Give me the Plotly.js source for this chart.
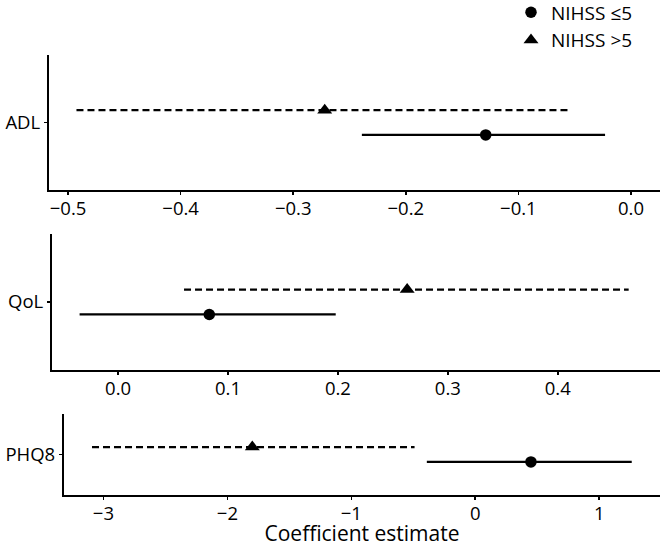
<!DOCTYPE html>
<html>
<head>
<meta charset="utf-8">
<script src="https://cdn.plot.ly/plotly-3.0.1.min.js"></script>
<style>html,body{margin:0;padding:0;background:#fff}</style>
</head>
<body>
<div id="chart" style="width:662px;height:547px"></div>
<script>
// ---- data ----
const outcomes = ['ADL', 'QoL', 'PHQ8'];
const groupNames = ['NIHSS ≤5', 'NIHSS >5'];
// NIHSS <=5 (circle, solid)
const estMild = [-0.129, 0.083, 0.449];
const loMild  = [-0.239, -0.035, -0.391];
const hiMild  = [-0.023, 0.198, 1.262];
// NIHSS >5 (triangle, dashed)
const estSevere = [-0.272, 0.263, -1.799];
const loSevere  = [-0.4925, 0.060, -3.092];
const hiSevere  = [-0.056, 0.4645, -0.490];

// ---- styles ----
const FONT = 'Open Sans, Noto Sans, sans-serif';
const TICK_SIZE = 18.5;
const DODGE = 0.11;
const W = 662, H = 547;
const MB = 52;              // bottom margin (room for tick labels + axis title)
const PH = H - MB;          // plot-area height (bottom panel sits on its bottom edge)
const panels = [
  {left: 49, top: 55, bottom: 190, range: [-0.5169, 0.0258], dtick: 0.1, fmt: '.1f'},
  {left: 52, top: 234, bottom: 370, range: [-0.0601, 0.493], dtick: 0.1, fmt: '.1f'},
  {left: 64, top: 414, bottom: 495, range: [-3.318, 1.49], dtick: 1, fmt: 'd'}
];
const RIGHT = 660;

const traces = [];
const layout = {
  width: W, height: H,
  margin: {l: 0, r: 0, t: 0, b: MB, autoexpand: false},
  paper_bgcolor: '#fff', plot_bgcolor: '#fff',
  font: {family: FONT, color: '#000', size: TICK_SIZE},
  showlegend: true,
  legend: {
    x: 511 / W, y: 1 + 6.6 / PH, xanchor: 'left', yanchor: 'top',
    font: {family: FONT, size: 19, color: '#000'},
    tracegroupgap: 0, bgcolor: 'rgba(0,0,0,0)'
  }
};

outcomes.forEach((name, i) => {
  const p = panels[i];
  const xa = i === 0 ? 'x' : 'x' + (i + 1);
  const ya = i === 0 ? 'y' : 'y' + (i + 1);
  const xk = i === 0 ? 'xaxis' : 'xaxis' + (i + 1);
  const yk = i === 0 ? 'yaxis' : 'yaxis' + (i + 1);
  const yMild = 1 - DODGE, ySev = 1 + DODGE;

  traces.push({
    x: [loSevere[i], hiSevere[i]], y: [ySev, ySev], xaxis: xa, yaxis: ya,
    mode: 'lines', line: {color: '#000', width: 2.2, dash: '7px,4px'},
    showlegend: false, hoverinfo: 'skip'
  });
  traces.push({
    x: [loMild[i], hiMild[i]], y: [yMild, yMild], xaxis: xa, yaxis: ya,
    mode: 'lines', line: {color: '#000', width: 2.2},
    showlegend: false, hoverinfo: 'skip'
  });
  traces.push({
    x: [estMild[i]], y: [yMild], xaxis: xa, yaxis: ya,
    mode: 'markers', marker: {symbol: 'circle', size: 11.5, color: '#000'},
    name: groupNames[0], legendgroup: 'g0', legendrank: 1, showlegend: i === 0
  });
  traces.push({
    x: [estSevere[i]], y: [ySev], xaxis: xa, yaxis: ya,
    mode: 'markers', marker: {symbol: 'triangle-up', size: 13, color: '#000'},
    name: groupNames[1], legendgroup: 'g1', legendrank: 2, showlegend: i === 0
  });

  layout[xk] = {
    domain: [p.left / W, RIGHT / W], anchor: ya,
    range: p.range, dtick: p.dtick, tick0: 0, tickformat: p.fmt,
    showline: true, linecolor: '#000', linewidth: 1.6,
    ticks: 'outside', ticklen: 3.5, tickwidth: 1.6, tickcolor: '#000',
    ticklabelstandoff: -2,
    showgrid: false, zeroline: false,
    tickfont: {family: FONT, size: TICK_SIZE, color: '#000'}
  };
  layout[yk] = {
    domain: [(PH - p.bottom) / PH, (PH - p.top) / PH], anchor: xa,
    range: [0.4, 1.6], tickvals: [1], ticktext: [name],
    showline: true, linecolor: '#000', linewidth: 1.6,
    ticks: 'outside', ticklen: 3.5, tickwidth: 1.6, tickcolor: '#000',
    showgrid: false, zeroline: false,
    tickfont: {family: FONT, size: TICK_SIZE, color: '#000'}
  };
});
layout.xaxis3.title = {text: 'Coefficient estimate', font: {family: FONT, size: 21, color: '#000'}, standoff: 2};

Plotly.newPlot('chart', traces, layout, {displayModeBar: false, staticPlot: true});
</script>
</body>
</html>
